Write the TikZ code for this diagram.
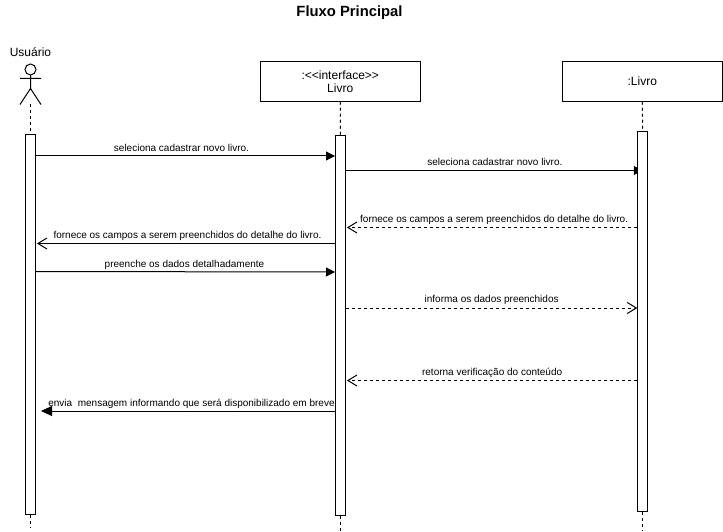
\documentclass[tikz,border=0pt]{standalone}
\usepackage{fontspec}
\setmainfont{Liberation Sans}
\usetikzlibrary{arrows.meta, calc, backgrounds}

\tikzset{
  lifebox/.style={draw, line width=1pt, minimum width=160.5pt, minimum height=39.5pt, inner sep=0pt, align=center, font=\fontsize{12}{13.5}\selectfont},
  activebar/.style={draw, fill=white, line width=1pt, minimum width=10pt, minimum height=380pt, inner sep=0pt},
  lifeline/.style={line width=1pt, dash pattern=on 3pt off 3pt},
  msglabel/.style={midway, above, inner sep=0pt, yshift=2pt, font=\fontsize{10}{11}\selectfont},
  call/.style={line width=1pt, -{Triangle[length=9pt, width=9pt]}},
  bigcall/.style={line width=1pt, -{Triangle[length=11pt, width=10pt]}},
  reply/.style={line width=1pt, -{Straight Barb[length=9pt, width=11pt]}},
  replydash/.style={reply, dash pattern=on 3pt off 3pt},
}

\begin{document}
\begin{tikzpicture}[x=1pt, y=-1pt]
\useasboundingbox (0,0) rectangle (723,532);

\node[font=\bfseries\fontsize{14.8}{16}\selectfont] (title) at (349.5,12.5) {Fluxo Principal};

% Draw the actor
\node[font=\fontsize{12}{14}\selectfont] (user) at (30.5,52) {Usuário};
\draw[line width=1pt] (30.5,69.5) circle[radius=5.5];
\draw[line width=1pt] (30.5,75) -- (30.5,88.5) (20,78.5) -- (41,78.5) (20,104.5) -- (30.5,88.5) -- (41,104.5);
\coordinate (feet) at (30.5,104.5);

% Draw the two boxes
\node[lifebox] (iface) at (340.25,81.5) {:{<}{<}interface{>}{>}\\Livro};
\node[lifebox] (livro) at (642.25,81.5) {:Livro};

% Activation bars
\node[activebar] (barU) at (30.5,324.5) {};
\node[activebar] (barI) at (340.5,325.75) {};
\node[activebar] (barL) at (642.75,321.75) {};

% Dashed lifelines above and below the bars
\coordinate (endU) at (30.5,528);
\coordinate (endI) at (340.5,531);
\coordinate (endL) at (642.75,531);
\draw[lifeline] (feet) -- (barU.north);
\draw[lifeline] (iface.south) -- (barI.north);
\draw[lifeline] (livro.south) -- (barL.north);
\draw[lifeline] (barU.south) -- (endU);
\draw[lifeline] (barI.south) -- (endI);
\draw[lifeline] (barL.south) -- (endL);

% Messages between the bars
\draw[call] (barU.east |- 0,156) -- (barI.west |- 0,156) node[msglabel, xshift=-4pt, yshift=2pt]{seleciona cadastrar novo livro.};
% this head runs under the bar
\begin{scope}[on background layer]
\draw[call] (barI.east |- 0,170.5) -- (barL.center |- 0,170.5) node[msglabel, xshift=0.5pt, yshift=2pt]{seleciona cadastrar novo livro.};
\end{scope}
\draw[replydash] (barL.west |- 0,227.5) -- ($(barI.east |- 0,227.5)+(1,0)$) node[msglabel, xshift=2pt]{fornece os campos a serem preenchidos do detalhe do livro.};
\draw[reply] (barI.west |- 0,243.5) -- ($(barU.east |- 0,243.5)+(1,0)$) node[msglabel, xshift=1.5pt]{fornece os campos a serem preenchidos do detalhe do livro.};
\draw[call] (barU.east |- 0,271.5) -- (barI.west |- 0,272) node[msglabel, xshift=-1pt]{preenche os dados detalhadamente};
\draw[replydash] (barI.east |- 0,308) -- (barL.west |- 0,308) node[msglabel, yshift=1pt]{informa os dados preenchidos};
\draw[replydash] (barL.west |- 0,380.5) -- ($(barI.east |- 0,380.5)+(1,0)$) node[msglabel]{retorna verificação do conteúdo};
\draw[bigcall] (barI.west |- 0,411) -- ($(barU.east |- 0,411)+(5,0)$) node[msglabel, xshift=3.5pt]{envia\ \ mensagem informando que será disponibilizado em breve};
\end{tikzpicture}
\end{document}
